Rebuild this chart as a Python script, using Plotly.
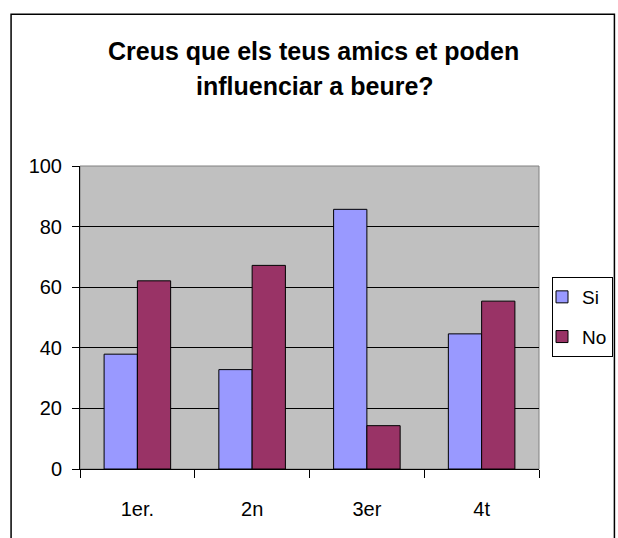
import plotly.graph_objects as go

categories = ["1er.", "2n", "3er", "4t"]
si_values = [37.9, 32.8, 85.7, 44.6]
no_values = [62.1, 67.2, 14.3, 55.4]
y_ticks = [0, 20, 40, 60, 80, 100]
title_lines = ["Creus que els teus amics et poden", "influenciar a beure?"]

FONT = "Liberation Sans, Arial, sans-serif"

fig = go.Figure()
fig.add_trace(go.Bar(name="Si", x=categories, y=si_values, legendgroup="a",
                     marker=dict(color="#9999FF", line=dict(color="black", width=1))))
fig.add_trace(go.Bar(name="No", x=categories, y=no_values, legendgroup="b",
                     marker=dict(color="#993366", line=dict(color="black", width=1))))

L, R, T, B = 79.5, 79, 166, 68.5
W, H = 618, 538
pw, ph = W - L - R, H - T - B

def px_x(px):
    return (px - L) / pw

def px_y(py):
    return (H - B - py) / ph

fig.update_layout(
    width=W, height=H,
    margin=dict(l=L, r=R, t=T, b=B, pad=0, autoexpand=False),
    paper_bgcolor="white",
    plot_bgcolor="#C0C0C0",
    barmode="group",
    bargap=0.42,
    bargroupgap=0,
    font=dict(family=FONT, size=20, color="black"),
    showlegend=True,
    legend=dict(
        xref="container", yref="container",
        x=552 / W, y=1 - 277 / H, xanchor="left", yanchor="top",
        bordercolor="black", borderwidth=1, bgcolor="white",
        font=dict(family=FONT, size=19, color="black"),
        traceorder="grouped", tracegroupgap=12,
        itemwidth=30, indentation=-11,
    ),
    xaxis=dict(
        showline=True, linecolor="black", linewidth=1,
        ticks="outside", ticklen=8, tickcolor="black",
        tickson="boundaries", showgrid=False,
        tickfont=dict(family=FONT, size=20),
        ticklabelstandoff=22,
    ),
    yaxis=dict(
        range=[0, 100], tickvals=y_ticks,
        showline=True, linecolor="black", linewidth=1,
        ticks="outside", ticklen=7, tickcolor="black",
        showgrid=True, gridcolor="black", gridwidth=1,
        zeroline=False,
        tickfont=dict(family=FONT, size=20),
        ticklabelstandoff=6,
    ),
    shapes=[
        dict(type="rect", xref="paper", yref="paper",
             x0=0, x1=1, y0=0, y1=1, line=dict(color="#808080", width=1), layer="below"),
        dict(type="rect", xref="paper", yref="paper",
             x0=px_x(10.5), x1=px_x(614.5), y0=px_y(560), y1=px_y(14),
             line=dict(color="black", width=1.5)),
    ],
    annotations=[
        dict(text="<b>" + title_lines[0] + "</b>", xref="paper", yref="paper",
             x=px_x(313), y=px_y(51), xanchor="center", yanchor="middle",
             showarrow=False, font=dict(family=FONT, size=25, color="black")),
        dict(text="<b>" + title_lines[1] + "</b>", xref="paper", yref="paper",
             x=px_x(315), y=px_y(86), xanchor="center", yanchor="middle",
             showarrow=False, font=dict(family=FONT, size=25, color="black")),
    ],
)

fig.write_html("out.html", config={"displayModeBar": False},
               post_script="document.body.style.margin='0';document.body.style.overflow='hidden';")
